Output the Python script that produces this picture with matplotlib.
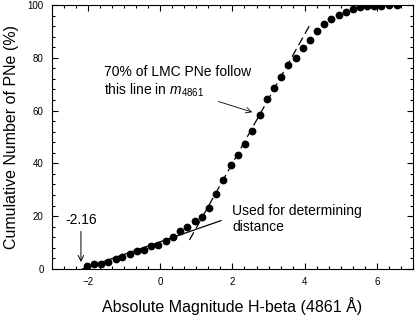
import matplotlib
matplotlib.use('Agg')
import matplotlib.pyplot as plt
from matplotlib.ticker import MultipleLocator

plt.rcParams['font.family'] = ['Liberation Sans', 'DejaVu Sans']
plt.rcParams['mathtext.fontset'] = 'custom'
plt.rcParams['mathtext.rm'] = 'Liberation Sans'
plt.rcParams['mathtext.it'] = 'Liberation Sans:italic'

# cumulative distribution of LMC PNe
mag = [-2.04, -1.85, -1.64, -1.44, -1.24, -1.05, -0.85, -0.65, -0.45, -0.26,
       -0.06, 0.15, 0.35, 0.55, 0.74, 0.95, 1.15, 1.36, 1.54, 1.75,
       1.96, 2.14, 2.34, 2.55, 2.75, 2.97, 3.15, 3.35, 3.55, 3.75,
       3.95, 4.14, 4.34, 4.55, 4.74, 4.94, 5.14, 5.35, 5.54, 5.74,
       5.93, 6.13, 6.34, 6.55]
cum = [1.1, 1.8, 2.0, 2.8, 3.7, 4.7, 5.8, 6.9, 7.2, 8.7,
       9.2, 10.5, 12.2, 14.3, 16.0, 18.2, 19.8, 23.0, 28.4, 33.7,
       39.4, 43.3, 47.5, 52.4, 58.3, 64.5, 68.7, 72.8, 77.4, 80.0,
       83.6, 86.7, 90.2, 92.7, 94.9, 96.2, 97.3, 98.4, 99.1, 99.6,
       99.7, 99.7, 100.0, 100.2]

# fitted lines
fit_low_x = [-2.16, 1.68]
fit_low_y = [0.0, 18.3]
fit_high_x = [0.81, 4.16]
fit_high_y = [11.0, 92.8]

fig = plt.figure(figsize=(4.2, 3.16), dpi=100)
ax = fig.add_axes([0.124, 0.149, 0.859, 0.835])

ax.plot(fit_low_x, fit_low_y, color='black', lw=0.9)
ax.plot(fit_high_x, fit_high_y, color='black', lw=0.9, linestyle=(0, (7, 3.5)))
ax.plot(mag, cum, 'o', color='black', ms=4.6, mec='black')

ax.set_xlim(-3, 7)
ax.set_ylim(0, 100)
ax.xaxis.set_major_locator(MultipleLocator(2))
ax.xaxis.set_minor_locator(MultipleLocator(1 / 3))
ax.yaxis.set_major_locator(MultipleLocator(20))
ax.yaxis.set_minor_locator(MultipleLocator(4))
ax.tick_params(which='both', direction='in', top=True, right=True,
               labelsize=7, width=0.8)
ax.tick_params(which='major', length=4)
ax.tick_params(which='minor', length=2.2)
ax.tick_params(axis='x', pad=6)
ax.tick_params(axis='y', pad=6)

ax.set_xlabel('Absolute Magnitude H-beta (4861 Å)', fontsize=11.5, labelpad=7)
ax.set_ylabel('Cumulative Number of PNe (%)', fontsize=11.5, labelpad=6)

ax.annotate('-2.16', xy=(-2.2, 2.6), xytext=(-2.2, 15.8),
            ha='center', va='bottom', fontsize=10,
            arrowprops=dict(arrowstyle='->', color='black', lw=0.7,
                            shrinkA=1, shrinkB=0))
ax.annotate('70% of LMC PNe follow\nthis line in $m_{\\mathregular{4861}}$',
            xy=(2.55, 59.4), xytext=(-1.57, 64.5),
            ha='left', va='bottom', fontsize=10, linespacing=1.2,
            arrowprops=dict(arrowstyle='->', color='black', lw=0.6,
                            shrinkA=0, shrinkB=0, relpos=(0.72, 0)))
ax.text(2.0, 13.3, 'Used for determining\ndistance', ha='left', va='bottom',
        fontsize=10, linespacing=1.2)

fig.savefig('out.png', dpi=100)
